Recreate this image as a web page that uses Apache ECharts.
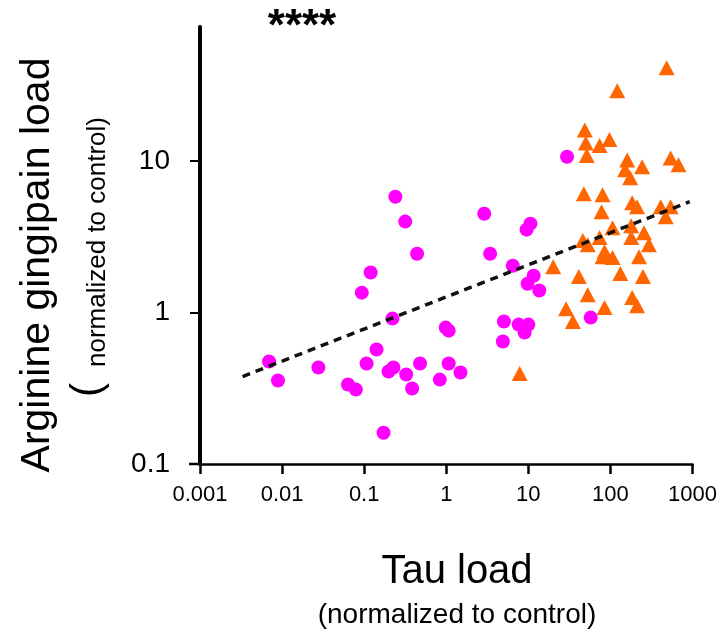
<!DOCTYPE html>
<html>
<head>
<meta charset="utf-8">
<script src="https://cdn.jsdelivr.net/npm/echarts@6/dist/echarts.min.js"></script>
<style>html,body{margin:0;padding:0;background:#fff}#c{width:720px;height:631px}</style>
</head>
<body>
<div id="c"></div>
<script>
// Magenta circles (Tau load, Arginine gingipain load)
const magentaX = [0.00693,0.00891,0.0277,0.0635,0.0793,0.0935,0.120,0.107,0.1415,0.221,0.240,0.316,0.441,0.198,0.227,0.325,0.384,0.479,0.172,0.834,0.984,1.07,1.07,1.49,2.90,3.42,10.6,9.51,6.46,11.6,9.78,13.6,5.04,7.62,10.0,9.0,4.90,57.5,29.6];
const magentaY = [0.475,0.356,0.434,0.335,0.310,1.355,1.84,0.461,0.570,0.913,5.83,3.99,2.45,0.408,0.434,0.390,0.315,0.461,0.161,0.361,0.796,0.760,0.461,0.402,4.50,2.45,3.87,3.53,2.04,1.75,1.55,1.40,0.873,0.833,0.833,0.738,0.644,0.927,10.7];
// Orange triangles
const orangeX = [48.7,50.1,73.8,97.3,51.5,121,484,160,151,243,174,541,675,47.4,80.2,78.0,184,211,410,541,471,106,179,179,256,294,46.1,52.9,73.8,84.7,106,80.2,223,20.1,41.2,132,249,52.9,184,211,28.8,84.7,34.9,7.84];
const orangeY = [16.1,13.2,12.7,13.9,10.9,29.2,41.4,10.2,8.79,9.2,7.78,10.5,9.48,6.10,6.01,4.64,5.32,5.01,5.01,5.01,4.30,3.64,3.75,3.13,3.37,2.81,2.99,2.81,3.13,2.53,2.31,2.34,2.34,2.01,1.73,1.81,1.73,1.31,1.26,1.11,1.06,1.08,0.873,0.396];
// Regression line end points
const fitX = [0.0033, 925];
const fitY = [0.378, 5.4];
// Tick values and labels
const xTickValues = [0.001,0.01,0.1,1,10,100,1000];
const xTickLabels = ['0.001','0.01','0.1','1','10','100','1000'];
const yTickValues = [0.1,1,10];
const yTickLabels = ['0.1','1','10'];

const zip = (a, b) => a.map((v, i) => [v, b[i]]);
const F = 'Arial, "Liberation Sans", sans-serif';
const labelOf = (vals, labs) => v => {
  let best = 0;
  vals.forEach((t, i) => { if (Math.abs(Math.log10(t) - Math.log10(v)) < Math.abs(Math.log10(vals[best]) - Math.log10(v))) best = i; });
  return labs[best];
};

const chart = echarts.init(document.getElementById('c'), null, {renderer: 'canvas'});
chart.setOption({
  animation: false,
  backgroundColor: '#fff',
  grid: {left: 200, right: 21, top: 27, bottom: 167, containLabel: false},
  xAxis: {
    type: 'log', logBase: 10, min: 0.001, max: 1000,
    splitLine: {show: false},
    axisLine: {lineStyle: {color: '#000', width: 2.5}},
    axisTick: {show: true, length: 10, customValues: xTickValues, lineStyle: {color: '#000', width: 2.5}},
    axisLabel: {
      color: '#000', fontSize: 22, fontFamily: F, margin: 20,
      customValues: xTickValues,
      formatter: labelOf(xTickValues, xTickLabels)
    }
  },
  yAxis: {
    type: 'log', logBase: 10, min: 0.1, max: 77,
    splitLine: {show: false},
    axisLine: {lineStyle: {color: '#000', width: 4}},
    axisTick: {show: true, length: 10, customValues: yTickValues, lineStyle: {color: '#000', width: 2}},
    axisLabel: {
      color: '#000', fontSize: 28, fontFamily: F, margin: 30,
      customValues: yTickValues,
      formatter: labelOf(yTickValues, yTickLabels)
    }
  },
  series: [
    {
      type: 'scatter', data: zip(magentaX, magentaY),
      symbol: 'circle', symbolSize: 14,
      itemStyle: {color: '#FF00FF', opacity: 1}, z: 2
    },
    {
      type: 'scatter', data: zip(orangeX, orangeY),
      symbol: 'triangle', symbolSize: [16, 15],
      itemStyle: {color: '#FF6600', opacity: 1}, z: 2
    },
    {
      type: 'line', data: zip(fitX, fitY), showSymbol: false, symbol: 'none',
      lineStyle: {color: '#111', width: 3.5, type: [8, 6]}, z: 5
    }
  ],
  graphic: [
    {type: 'line', shape: {x1: 189, y1: 464, x2: 200, y2: 464}, style: {stroke: '#000', lineWidth: 2.5}},
    {type: 'text', x: 302, y: 28, style: {text: '****', font: 'bold 44px ' + F, fill: '#000', textAlign: 'center', textVerticalAlign: 'middle'}},
    {type: 'text', x: 457, y: 572, style: {text: 'Tau load', font: '40px ' + F, fill: '#000', textAlign: 'center', textVerticalAlign: 'middle'}},
    {type: 'text', x: 457, y: 615, style: {text: '(normalized to control)', font: '28px ' + F, fill: '#000', textAlign: 'center', textVerticalAlign: 'middle'}},
    {type: 'text', x: 38, y: 265, rotation: Math.PI / 2, style: {text: 'Arginine gingipain load', font: '41px ' + F, fill: '#000', textAlign: 'center', textVerticalAlign: 'middle'}},
    {type: 'text', x: 98, y: 242, rotation: Math.PI / 2, style: {text: 'normalized to control)', font: '26px ' + F, fill: '#000', textAlign: 'center', textVerticalAlign: 'middle'}},
    {type: 'text', x: 88, y: 390, rotation: Math.PI / 2, style: {text: '(', font: '42px ' + F, fill: '#000', textAlign: 'center', textVerticalAlign: 'middle'}}
  ]
});
</script>
</body>
</html>
